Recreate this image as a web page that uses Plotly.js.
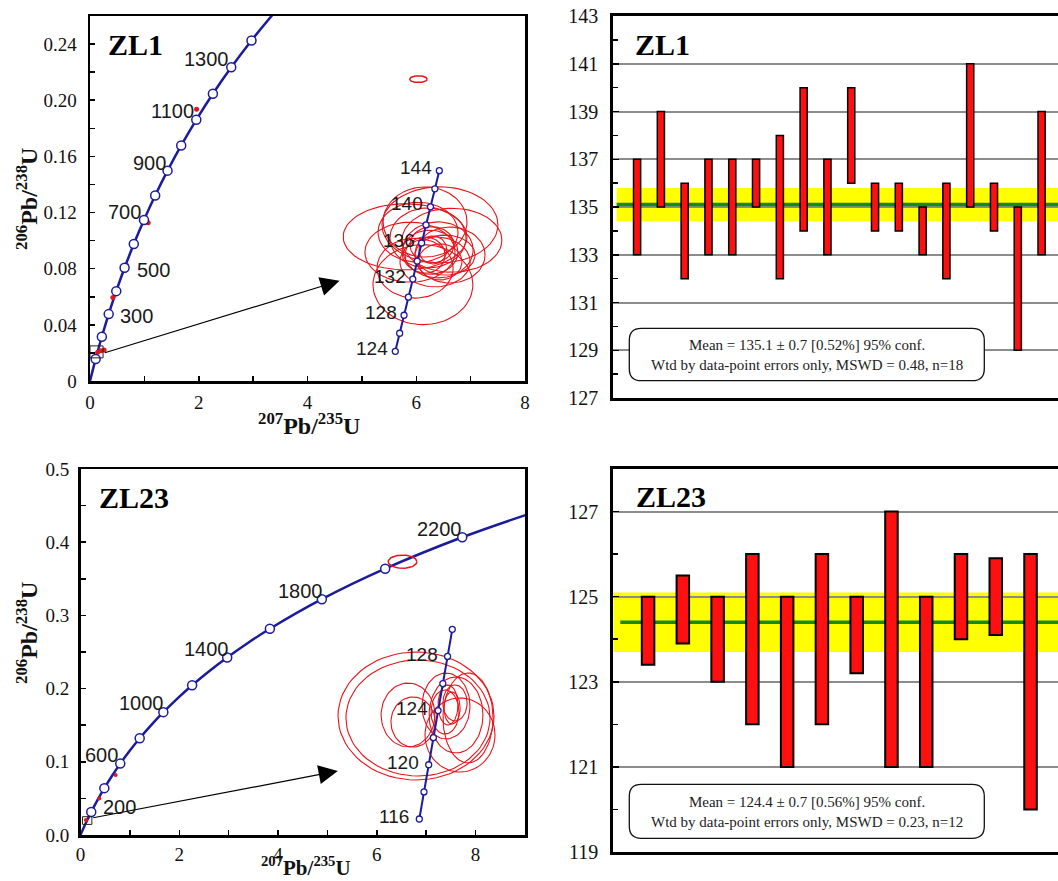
<!DOCTYPE html>
<html><head><meta charset="utf-8">
<script src="https://cdn.plot.ly/plotly-3.0.1.min.js"></script>
<style>html,body{margin:0;padding:0;background:#fff}#chart{width:1058px;height:881px}</style>
</head><body><div id="chart"></div><script>
// ---- Concordia reference points (age in Ma) ----
const concAges = [0,100,200,300,400,500,600,700,800,900,1000,1100,1200,1300,1400,1500,1600,1800,2000,2200,2400];
const concPb207U235 = [0,0.1035,0.2177,0.3437,0.4828,0.6362,0.8055,0.9925,1.1987,1.4264,1.6774,1.9546,2.2603,2.5978,2.9700,3.3810,3.8344,4.8869,6.1688,7.7295,9.6295];
const concPb206U238 = [0,0.01563,0.03152,0.04764,0.06402,0.08065,0.09754,0.11470,0.13213,0.14983,0.16781,0.18607,0.20461,0.22344,0.24257,0.26199,0.28172,0.32212,0.36377,0.40673,0.45107];
const zl1CurveMaxAge = 1500;
const zl1MarkerAges = [100,200,300,400,500,600,700,800,900,1000,1100,1200,1300,1400];
const zl1LabelAges = [300,500,700,900,1100,1300];
const zl23MarkerAges = [200,400,600,800,1000,1200,1400,1600,1800,2000,2200];
const zl23LabelAges = [200,600,1000,1400,1800,2200];

// ---- Inset (enlarged) concordia ----
const zl1InsetAges = [124,126,128,130,132,134,136,138,140,142,144];
const zl1InsetX = [0.129891,0.132119,0.134351,0.136588,0.138829,0.141074,0.143324,0.145578,0.147837,0.150100,0.152367];
const zl1InsetY = [0.019422,0.019738,0.020054,0.020371,0.020688,0.021004,0.021321,0.021638,0.021955,0.022272,0.022589];
const zl1InsetLabels = [124,128,132,136,140,144];
const zl23InsetAges = [116,118,120,122,124,126,128,130];
const zl23InsetX = [0.121024,0.123234,0.125449,0.127668,0.129891,0.132119,0.134351,0.136588];
const zl23InsetY = [0.018157,0.018473,0.018790,0.019106,0.019422,0.019738,0.020054,0.020371];
const zl23InsetLabels = [116,120,124,128];

// ---- Error ellipses (centre, half-axes) ----
const zl1EllX  = [0.1349,0.1527,0.1440,0.1588,0.1451,0.1374,0.1517,0.1476,0.1553,0.1486,0.1451,0.1527,0.1502,0.1466,0.1415,0.1491,0.1578,0.1400];
const zl1EllY  = [0.02143,0.02164,0.02059,0.02137,0.02169,0.02116,0.02120,0.02116,0.02111,0.02129,0.02111,0.02099,0.02099,0.02141,0.02151,0.02120,0.02111,0.02088];
const zl1EllSX = [0.0316,0.0296,0.0255,0.0255,0.0214,0.0230,0.0179,0.0143,0.0153,0.0112,0.0102,0.0112,0.0179,0.0194,0.0204,0.0071,0.0179,0.0194];
const zl1EllSY = [0.000579,0.000666,0.000701,0.000561,0.000614,0.000526,0.000491,0.000386,0.000351,0.000316,0.000316,0.000316,0.000438,0.000526,0.000526,0.000246,0.000491,0.000526];
const zl23EllX  = [0.11947,0.12041,0.11569,0.11805,0.14022,0.13362,0.13834,0.13456,0.13645,0.13315,0.13786,0.14400];
const zl23EllY  = [0.019359,0.019336,0.019371,0.019289,0.019137,0.019476,0.019371,0.019487,0.019452,0.019406,0.019511,0.019336];
const zl23EllSX = [0.0368,0.0340,0.0127,0.0104,0.0165,0.0113,0.0127,0.0047,0.0038,0.0066,0.0057,0.0118];
const zl23EllSY = [0.000747,0.000677,0.000373,0.000292,0.000432,0.000385,0.000443,0.000233,0.000187,0.000257,0.000210,0.000525];

// main-plot (older / discordant) analyses
const zl1OldX  = [0.14,0.20,0.26,0.42,0.67,1.07,1.96];
const zl1OldY  = [0.0205,0.0215,0.0220,0.0595,0.0825,0.1128,0.1935];
const zl1DiscX = [6.04], zl1DiscY = [0.215], zl1DiscSX = [0.16], zl1DiscSY = [0.0024];
const zl23OldX = [0.11,0.38,0.71];
const zl23OldY = [0.0205,0.050,0.082];
const zl23DiscX = [6.52], zl23DiscY = [0.3734], zl23DiscSX = [0.29], zl23DiscSY = [0.009];

// ---- Weighted mean ages ----
const zl1Low  = [133,135,132,133,133,135,132,134,133,136,134,134,133,132,135,134,129,133];
const zl1High = [137,139,136,137,137,137,138,140,137,140,136,136,135,136,141,136,135,139];
const zl1Mean = 135.1, zl1Err = 0.7;
const zl1Text = "Mean = 135.1 ± 0.7 [0.52%] 95% conf.<br>Wtd by data-point errors only, MSWD = 0.48, n=18";
const zl23Low  = [123.4,123.9,123,122,121,122,123.2,121,121,124,124.1,120];
const zl23High = [125,125.5,125,126,125,126,125,127,125,126,125.9,126];
const zl23Mean = 124.4, zl23Err = 0.7;
const zl23Text = "Mean = 124.4 ± 0.7 [0.56%] 95% conf.<br>Wtd by data-point errors only, MSWD = 0.23, n=12";

// tick labels of the ZL1 concordia y axis
const zl1YTickVals = [0,0.04,0.08,0.12,0.16,0.20,0.24];
const zl1YTickText = ['0','0.04','0.08','0.12','0.16','0.20','0.24'];

// ================= build =================
const W = 1058, H = 881;
const px = v => v / W, py = v => 1 - v / H;
const SERIF = "Liberation Serif, Times New Roman, serif";
const SANS = "Liberation Sans, Arial, sans-serif";
const BLUE = "#1b1b9e", RED = "#e8141b";

const idx = a => concAges.indexOf(a);
const pick = (ages, arr) => ages.map(a => arr[idx(a)]);

function ellipseTrace(cx, cy, sx, sy, xa, ya, width) {
  const xs = [], ys = [];
  for (let k = 0; k < cx.length; k++) {
    for (let j = 0; j <= 72; j++) {
      const t = j / 72 * 2 * Math.PI;
      xs.push(cx[k] + sx[k] * Math.cos(t)); ys.push(cy[k] + sy[k] * Math.sin(t));
    }
    xs.push(null); ys.push(null);
  }
  return {type:'scatter', mode:'lines', x:xs, y:ys, xaxis:xa, yaxis:ya, line:{color:RED, width:width}, hoverinfo:'skip'};
}

const traces = [];
// ZL1 main concordia
const zl1CurveAges = concAges.filter(a => a <= zl1CurveMaxAge);
traces.push({type:'scatter', mode:'lines', x:pick(zl1CurveAges, concPb207U235), y:pick(zl1CurveAges, concPb206U238),
  xaxis:'x', yaxis:'y', line:{color:BLUE, width:2.5, shape:'spline'}});
traces.push({type:'scatter', mode:'markers', x:zl1OldX, y:zl1OldY, xaxis:'x', yaxis:'y',
  marker:{color:RED, size:5, symbol:'circle'}});
traces.push(ellipseTrace(zl1DiscX, zl1DiscY, zl1DiscSX, zl1DiscSY, 'x', 'y', 1.5));
traces.push({type:'scatter', mode:'markers', x:pick(zl1MarkerAges, concPb207U235), y:pick(zl1MarkerAges, concPb206U238),
  xaxis:'x', yaxis:'y', marker:{color:'#fff', size:9, line:{color:BLUE, width:1.5}}});
// ZL1 inset
traces.push(ellipseTrace(zl1EllX, zl1EllY, zl1EllSX, zl1EllSY, 'x5', 'y5', 1.1));
traces.push({type:'scatter', mode:'lines+markers', x:zl1InsetX, y:zl1InsetY, xaxis:'x5', yaxis:'y5',
  line:{color:BLUE, width:2}, marker:{color:'#fff', size:6, line:{color:BLUE, width:1.3}}});

// ZL23 main concordia
traces.push({type:'scatter', mode:'lines', x:concPb207U235, y:concPb206U238,
  xaxis:'x3', yaxis:'y3', line:{color:BLUE, width:2.5, shape:'spline'}});
traces.push({type:'scatter', mode:'markers', x:zl23OldX, y:zl23OldY, xaxis:'x3', yaxis:'y3',
  marker:{color:RED, size:4, symbol:'circle'}});
traces.push(ellipseTrace(zl23DiscX, zl23DiscY, zl23DiscSX, zl23DiscSY, 'x3', 'y3', 1.5));
traces.push({type:'scatter', mode:'markers', x:pick(zl23MarkerAges, concPb207U235), y:pick(zl23MarkerAges, concPb206U238),
  xaxis:'x3', yaxis:'y3', marker:{color:'#fff', size:9, line:{color:BLUE, width:1.5}}});
// ZL23 inset
traces.push(ellipseTrace(zl23EllX, zl23EllY, zl23EllSX, zl23EllSY, 'x6', 'y6', 1.1));
traces.push({type:'scatter', mode:'lines+markers', x:zl23InsetX, y:zl23InsetY, xaxis:'x6', yaxis:'y6',
  line:{color:BLUE, width:2}, marker:{color:'#fff', size:6, line:{color:BLUE, width:1.3}}});

// bars
const seq = n => Array.from({length:n}, (_, i) => i + 1);
traces.push({type:'bar', x:seq(zl1Low.length), base:zl1Low, y:zl1High.map((h,i)=>h-zl1Low[i]),
  xaxis:'x2', yaxis:'y2', width:0.3, marker:{color:'#ff1010', line:{color:'#000', width:1.5}}});
traces.push({type:'bar', x:seq(zl23Low.length), base:zl23Low, y:zl23High.map((h,i)=>h-zl23Low[i]),
  xaxis:'x4', yaxis:'y4', width:0.36, marker:{color:'#ff1010', line:{color:'#000', width:2}}});

// ---- axes ----
const tickF = s => ({family:SERIF, size:s, color:'#111'});
function concAxis(domain, range, dtick, minor, extra) {
  return Object.assign({domain, range, dtick, tick0:0, ticks:'inside', ticklen:5, tickwidth:1.5, tickcolor:'#000',
    minor:{tickmode:'linear', tick0:0, dtick:minor, ticks:'inside', ticklen:5, tickwidth:1.5, tickcolor:'#000'},
    showline:true, linecolor:'#000', linewidth:2.5, mirror:true, showgrid:false, zeroline:false,
    tickfont:tickF(19), fixedrange:true}, extra || {});
}
const TL = {x:[px(90), px(525)], y:[py(381), py(16)]};
const BL = {x:[px(80.5), px(525)], y:[py(835), py(469)]};
const TR = {x:[px(613.3), 1], y:[py(398), py(16)]};
const BR = {x:[px(613.3), 1], y:[py(852), py(469)]};

function barY(domain, range) {
  return {domain, range, tick0:range[0], dtick:2, ticks:'inside', ticklen:6, tickwidth:1.5, tickcolor:'#000',
    minor:{dtick:1, ticks:'inside', ticklen:5, tickwidth:1.5, tickcolor:'#000', showgrid:false},
    showgrid:true, gridcolor:'#8c8c8c', gridwidth:2, showline:true, linecolor:'#000', linewidth:3, mirror:false,
    zeroline:false, tickfont:tickF(20), ticklabelstandoff:8, fixedrange:true};
}
function barX(domain, range, anchor) {
  return {domain, range, anchor, showticklabels:false, ticks:'', showgrid:false, zeroline:false,
    showline:true, linecolor:'#000', linewidth:3, mirror:true, fixedrange:true};
}

const layout = {
  width:W, height:H, margin:{l:0, r:0, t:0, b:0}, paper_bgcolor:'#fff', plot_bgcolor:'#fff',
  showlegend:false, hovermode:false, bargap:0,
  xaxis: concAxis(TL.x, [0,8], 2, 1, {anchor:'y', ticklabelstandoff:3}),
  yaxis: concAxis(TL.y, [0,0.26], 0.04, 0.02, {anchor:'x', ticklabelstandoff:7,
    tickmode:'array', tickvals:zl1YTickVals, ticktext:zl1YTickText}),
  xaxis3: concAxis(BL.x, [0,9], 2, 1, {anchor:'y3', ticklabelstandoff:1}),
  yaxis3: concAxis(BL.y, [0,0.5], 0.1, 0.05, {anchor:'x3', tickformat:'.1f', ticklabelstandoff:5}),
  xaxis2: barX(TR.x, [0,18.69], 'y2'),
  yaxis2: Object.assign(barY(TR.y, [127,143]), {anchor:'x2'}),
  xaxis4: barX(BR.x, [0,12.79], 'y4'),
  yaxis4: Object.assign(barY(BR.y, [119,128]), {anchor:'x4'}),
  xaxis5: {overlaying:'x', anchor:'y5', range:[-0.02595, 0.19611], visible:false, fixedrange:true},
  yaxis5: {overlaying:'y', anchor:'x5', range:[0.018901, 0.025302], visible:false, fixedrange:true},
  xaxis6: {overlaying:'x3', anchor:'y6', range:[-0.03879, 0.17088], visible:false, fixedrange:true},
  yaxis6: {overlaying:'y3', anchor:'x6', range:[0.01797, 0.022242], visible:false, fixedrange:true},
  shapes: [], annotations: []
};

// mean bands
function meanShapes(xr, yr, mean, err, x0band, x0line, xmax) {
  layout.shapes.push({type:'rect', xref:xr, yref:yr, x0:x0band, x1:xmax, y0:mean-err, y1:mean+err,
    fillcolor:'#ffff00', line:{width:0}, layer:'below'});
  layout.shapes.push({type:'line', xref:xr, yref:yr, x0:x0line, x1:xmax, y0:mean, y1:mean,
    line:{color:'#168c16', width:3.5}, layer:'between'});
}
meanShapes('x2','y2', zl1Mean, zl1Err, 0.14, 0.14, 18.69);
meanShapes('x4','y4', zl23Mean, zl23Err, 0, 0.2, 12.79);

// zoom boxes + arrows
layout.shapes.push({type:'rect', xref:'x', yref:'y', x0:0, x1:0.24, y0:0.0165, y1:0.025, line:{color:'#222', width:1}});
layout.shapes.push({type:'rect', xref:'x3', yref:'y3', x0:0.04, x1:0.23, y0:0.0145, y1:0.025, line:{color:'#222', width:1}});
function arrow(xr, yr, x0, y0, x1, y1) {
  layout.annotations.push({xref:xr, yref:yr, axref:xr, ayref:yr, x:x1, y:y1, ax:x0, ay:y0, text:'',
    showarrow:true, arrowhead:2, arrowsize:3.2, arrowwidth:1.2, arrowcolor:'#000', standoff:0, startstandoff:0});
}
arrow('x','y', 0.245, 0.0198, 4.59, 0.0714);
arrow('x3','y3', 0.227, 0.0232, 5.21, 0.0874);

// rounded stats boxes
function roundBox(x0, y0, x1, y1, r) {
  const P = (x, y) => px(x).toFixed(5) + ',' + py(y).toFixed(5);
  const path = 'M' + P(x0+r, y0) + ' L' + P(x1-r, y0) + ' Q' + P(x1, y0) + ' ' + P(x1, y0+r) +
    ' L' + P(x1, y1-r) + ' Q' + P(x1, y1) + ' ' + P(x1-r, y1) + ' L' + P(x0+r, y1) +
    ' Q' + P(x0, y1) + ' ' + P(x0, y1-r) + ' L' + P(x0, y0+r) + ' Q' + P(x0, y0) + ' ' + P(x0+r, y0) + ' Z';
  layout.shapes.push({type:'path', xref:'paper', yref:'paper', path, fillcolor:'#fff', line:{color:'#111', width:1.3}, layer:'above'});
}
roundBox(629.3, 328.3, 984.3, 380.7, 12);
roundBox(629.3, 784.3, 984.3, 838.3, 12);
layout.annotations.push({xref:'paper', yref:'paper', x:px(806.7), y:py(355), text:zl1Text, showarrow:false,
  font:{family:SERIF, size:15, color:'#222'}, xanchor:'center', yanchor:'middle', align:'center'});
layout.annotations.push({xref:'paper', yref:'paper', x:px(806.7), y:py(811.5), text:zl23Text, showarrow:false,
  font:{family:SERIF, size:15, color:'#222'}, xanchor:'center', yanchor:'middle', align:'center'});

// concordia age labels
const zl1LabelStyle = {300:['left',9,-2], 500:['left',10,-2], 700:['right',-1,8], 900:['right',0,8], 1100:['right',0,9], 1300:['right',0,8]};
zl1LabelAges.forEach(a => {
  const s = zl1LabelStyle[a];
  layout.annotations.push({xref:'x', yref:'y', x:concPb207U235[idx(a)], y:concPb206U238[idx(a)], text:String(a),
    showarrow:false, xanchor:s[0], yanchor:'middle', xshift:s[1], yshift:s[2], font:{family:SANS, size:20, color:'#1a1a1a'}});
});
const zl23LabelStyle = {200:['left',10,5], 600:['right',0,9], 1000:['right',3,9], 1400:['right',4,8], 1800:['right',3,8], 2200:['right',2,8]};
zl23LabelAges.forEach(a => {
  const s = zl23LabelStyle[a];
  layout.annotations.push({xref:'x3', yref:'y3', x:concPb207U235[idx(a)], y:concPb206U238[idx(a)], text:String(a),
    showarrow:false, xanchor:s[0], yanchor:'middle', xshift:s[1], yshift:s[2], font:{family:SANS, size:20, color:'#1a1a1a'}});
});
zl1InsetLabels.forEach(a => {
  const i = zl1InsetAges.indexOf(a);
  layout.annotations.push({xref:'x5', yref:'y5', x:zl1InsetX[i], y:zl1InsetY[i], text:String(a), showarrow:false,
    xanchor:'right', yanchor:'middle', xshift:-5, yshift:3, font:{family:SANS, size:19, color:'#1a1a1a'}});
});
zl23InsetLabels.forEach(a => {
  const i = zl23InsetAges.indexOf(a);
  layout.annotations.push({xref:'x6', yref:'y6', x:zl23InsetX[i], y:zl23InsetY[i], text:String(a), showarrow:false,
    xanchor:'right', yanchor:'middle', xshift:-8, yshift:2, font:{family:SANS, size:19, color:'#1a1a1a'}});
});

// panel labels
[[106,44,'ZL1'],[633,44,'ZL1'],[97,497,'ZL23'],[634,496,'ZL23']].forEach(p => {
  layout.annotations.push({xref:'paper', yref:'paper', x:px(p[0]), y:py(p[1]), text:p[2], showarrow:false,
    xanchor:'left', yanchor:'middle', font:{family:SERIF, size:30, color:'#000', weight:'bold'}});
});

// axis titles
const yT = "<sup>206</sup>Pb/<sup>238</sup>U", xT = "<sup>207</sup>Pb/<sup>235</sup>U";
const titleFont = {family:SERIF, size:24, color:'#111', weight:'bold'};
layout.annotations.push({xref:'paper', yref:'paper', x:px(27), y:py(199), text:yT, textangle:-90, showarrow:false, font:titleFont, xanchor:'center', yanchor:'middle'});
layout.annotations.push({xref:'paper', yref:'paper', x:px(27), y:py(633), text:yT, textangle:-90, showarrow:false, font:titleFont, xanchor:'center', yanchor:'middle'});
layout.annotations.push({xref:'paper', yref:'paper', x:px(309), y:py(424), text:xT, showarrow:false, font:titleFont, xanchor:'center', yanchor:'middle'});
layout.annotations.push({xref:'paper', yref:'paper', x:px(306), y:py(881), text:xT, showarrow:false,
  font:{family:SERIF, size:21, color:'#111', weight:'bold'}, xanchor:'center', yanchor:'bottom', borderpad:0});

Plotly.newPlot('chart', traces, layout, {staticPlot:true, displayModeBar:false});
</script></body></html>
